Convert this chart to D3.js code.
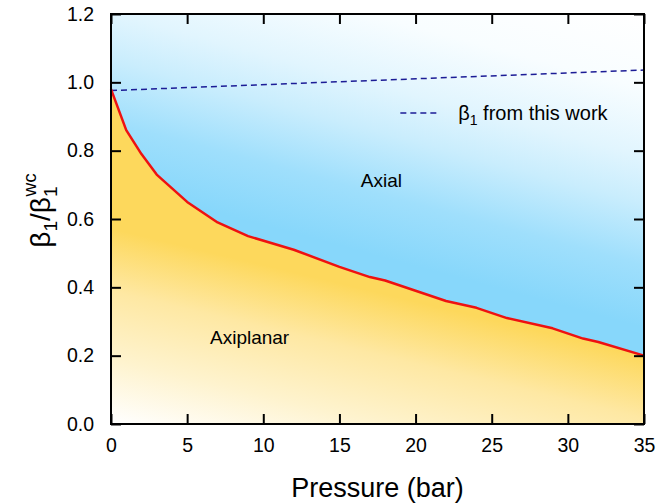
<!DOCTYPE html>
<html>
<head>
<meta charset="utf-8">
<script src="https://cdn.jsdelivr.net/npm/d3@7"></script>
<style>
    body { margin: 0; background: #fff; }
    svg { display: block; font-family: "Liberation Sans", Arial, Helvetica, sans-serif; }
</style>
</head>
<body>
<div id="chart"></div>
<script>
// Phase boundary between axial and axiplanar states
const pressure = [0, 1, 2, 3, 5, 7, 9, 12, 15, 17, 18, 20, 22, 24, 26, 29, 31, 32, 35];
const ratio = [0.98, 0.86, 0.79, 0.73, 0.65, 0.59, 0.55, 0.51, 0.46, 0.43, 0.42, 0.39, 0.36, 0.34, 0.31, 0.28, 0.25, 0.24, 0.20];

// beta_1 from this work (dashed)
const workPressure = [0, 35];
const workRatio = [0.976, 1.036];

const xTicks = [0, 5, 10, 15, 20, 25, 30, 35];
const yTicks = [0, 0.2, 0.4, 0.6, 0.8, 1.0, 1.2];

const regionLabels = ["Axial", "Axiplanar"];
const legendLabel = "from this work";

let width = 658,
    height = 504,
    margin = {top: 14, right: 14, bottom: 80, left: 111},
    w = width - margin.left - margin.right,
    h = height - margin.top - margin.bottom;

let svg = d3.select("#chart")
    .append("svg")
    .attr("width", width)
    .attr("height", height);

let x = d3.scaleLinear().domain([0, 35]).range([0, w]),
    y = d3.scaleLinear().domain([0, 1.2]).range([h, 0]);

let defs = svg.append("defs");

// Blue fades toward the upper right, yellow toward the lower left.
let blueGrad = defs.append("linearGradient")
    .attr("id", "blueGrad")
    .attr("gradientUnits", "userSpaceOnUse")
    .attr("x1", -31).attr("y1", 162)
    .attr("x2", 47).attr("y2", -128);
[[0, "#87d7fb"], [0.2, "#9fdffc"], [0.4, "#c9edfd"], [0.55, "#e1f5fe"], [0.77, "#f8fdff"], [1, "#ffffff"]]
    .forEach(s => blueGrad.append("stop").attr("offset", s[0]).attr("stop-color", s[1]));

let yellowGrad = defs.append("linearGradient")
    .attr("id", "yellowGrad")
    .attr("gradientUnits", "userSpaceOnUse")
    .attr("x1", 14).attr("y1", 218)
    .attr("x2", -30).attr("y2", 402);
[[0, "#fdd85c"], [0.32, "#fee8a3"], [0.67, "#fef3ce"], [1, "#ffffff"]]
    .forEach(s => yellowGrad.append("stop").attr("offset", s[0]).attr("stop-color", s[1]));

let g = svg.append("g")
    .attr("transform", `translate(${margin.left},${margin.top})`);

let boundary = pressure.map((p, i) => [p, ratio[i]]);

// Axial region (above the boundary)
g.append("path")
    .datum(boundary)
    .attr("fill", "url(#blueGrad)")
    .attr("d", d3.area().x(d => x(d[0])).y0(y(1.2)).y1(d => y(d[1])));

// Axiplanar region (below the boundary)
g.append("path")
    .datum(boundary)
    .attr("fill", "url(#yellowGrad)")
    .attr("d", d3.area().x(d => x(d[0])).y0(y(0)).y1(d => y(d[1])));

// Dashed beta_1 line
g.append("path")
    .datum(workPressure.map((p, i) => [p, workRatio[i]]))
    .attr("fill", "none")
    .attr("stroke", "#1c1c96")
    .attr("stroke-width", 1.5)
    .attr("stroke-dasharray", "6,4")
    .attr("d", d3.line().x(d => x(d[0])).y(d => y(d[1])));

// Boundary line
g.append("path")
    .datum(boundary)
    .attr("fill", "none")
    .attr("stroke", "#ee1111")
    .attr("stroke-width", 2.5)
    .attr("stroke-linejoin", "round")
    .attr("d", d3.line().x(d => x(d[0])).y(d => y(d[1])));

// Axes: ticks point inward, mirrored on top and right
let tickLen = 10;
let xAxis = g.append("g")
    .attr("transform", `translate(0,${h})`)
    .call(d3.axisBottom(x).tickValues(xTicks).tickSizeInner(-tickLen).tickSizeOuter(0).tickPadding(14).tickFormat(d3.format("d")));
let xTop = g.append("g")
    .call(d3.axisTop(x).tickValues(xTicks).tickSizeInner(-tickLen).tickSizeOuter(0).tickFormat(""));
let yAxis = g.append("g")
    .call(d3.axisLeft(y).tickValues(yTicks).tickSizeInner(-tickLen).tickSizeOuter(0).tickPadding(17).tickFormat(d3.format(".1f")));
let yRight = g.append("g")
    .attr("transform", `translate(${w},0)`)
    .call(d3.axisRight(y).tickValues(yTicks).tickSizeInner(-tickLen).tickSizeOuter(0).tickFormat(""));

[xAxis, xTop, yAxis, yRight].forEach(a => {
    a.select(".domain").remove();
    a.selectAll(".tick line").attr("stroke", "#000").attr("stroke-width", 2);
    a.selectAll(".tick text")
        .attr("fill", "#000")
        .style("font-size", "19.5px")
        .style("font-family", "'Liberation Sans', Arial, sans-serif");
});

// Frame
g.append("rect")
    .attr("width", w)
    .attr("height", h)
    .attr("fill", "none")
    .attr("stroke", "#000")
    .attr("stroke-width", 2);

// Region labels
g.append("text")
    .attr("x", x(16.4))
    .attr("y", y(0.695))
    .style("font-size", "19px")
    .text(regionLabels[0]);
g.append("text")
    .attr("x", x(6.5))
    .attr("y", y(0.235))
    .style("font-size", "19px")
    .text(regionLabels[1]);

// Legend
g.append("line")
    .attr("x1", x(19)).attr("x2", x(21.4))
    .attr("y1", y(0.91)).attr("y2", y(0.91))
    .attr("stroke", "#1c1c96")
    .attr("stroke-width", 1.5)
    .attr("stroke-dasharray", "6,4");
let leg = g.append("text")
    .attr("x", x(22.8))
    .attr("y", y(0.89))
    .style("font-size", "20px");
leg.append("tspan").text("β");
leg.append("tspan").attr("dy", 5).style("font-size", "14px").text("1");
leg.append("tspan").attr("dy", -5).text(" " + legendLabel);

// Axis titles
svg.append("text")
    .attr("x", margin.left + w / 2)
    .attr("y", 497)
    .attr("text-anchor", "middle")
    .style("font-size", "27px")
    .text("Pressure (bar)");

let yt = svg.append("text")
    .attr("transform", `translate(50,${margin.top + y(0.625)}) rotate(-90)`)
    .attr("text-anchor", "middle")
    .style("font-size", "28px");
yt.append("tspan").text("β");
yt.append("tspan").attr("dy", 7).style("font-size", "19px").text("1");
yt.append("tspan").attr("dy", -7).text("/β");
yt.append("tspan").attr("dy", 7).style("font-size", "19px").text("1");
yt.append("tspan").attr("dx", -10).attr("dy", -21).style("font-size", "19px").text("wc");
</script>
</body>
</html>
